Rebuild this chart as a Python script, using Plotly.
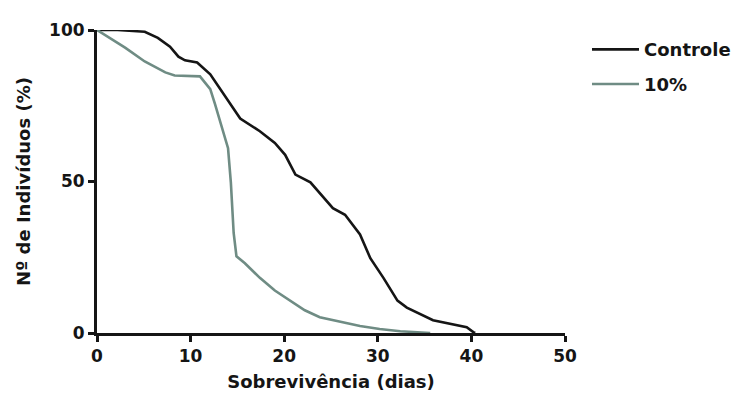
import plotly.graph_objects as go

# Survival data
controle_x = [0, 2.2, 5.1, 6.5, 7.8, 8.7, 9.4, 10.7, 12.1, 13.7, 15.3, 17.4, 19.0, 20.1,
              21.2, 22.8, 24.4, 25.2, 26.5, 28.1, 29.2, 30.6, 32.1, 33.1, 35.9, 39.5, 40.2, 40.4]
controle_y = [100, 100, 99.4, 97.4, 94.5, 91.2, 90, 89.3, 85.4, 78.2, 70.8, 66.6, 62.7, 58.8,
              52.3, 49.7, 44.2, 41.2, 39, 32.5, 24.7, 18.2, 10.7, 8.4, 4.2, 1.9, 0.3, 0]

dez_x = [0, 3.0, 5.1, 7.3, 8.3, 11.0, 12.1, 12.6, 14.0, 14.3, 14.6, 14.9, 15.8, 17.4,
         19.0, 20.6, 22.2, 23.8, 26.0, 28.1, 30.2, 32.4, 35.6]
dez_y = [100, 94.2, 89.6, 86.0, 85, 84.7, 80.5, 75.6, 61, 49.7, 33, 25.3, 23, 18.2,
         14, 10.7, 7.5, 5.2, 3.6, 2.3, 1.3, 0.6, 0]

series_names = ["Controle", "10%"]
x_ticks = [0, 10, 20, 30, 40, 50]
y_ticks = [0, 50, 100]

FONT = "DejaVu Sans"
INK = "#151515"

fig = go.Figure()
fig.add_trace(go.Scatter(x=controle_x, y=controle_y, mode="lines", name=series_names[0],
                         line=dict(color=INK, width=2.6), legend="legend"))
fig.add_trace(go.Scatter(x=dez_x, y=dez_y, mode="lines", name=series_names[1],
                         line=dict(color="#6f8c84", width=2.6), legend="legend2"))

axis_common = dict(showgrid=False, zeroline=False, showline=True, linecolor=INK, linewidth=3,
                   ticks="outside", ticklen=6, tickwidth=2.5, tickcolor=INK,
                   tickfont=dict(family=FONT, size=17, color=INK, weight="bold"))

legend_common = dict(xanchor="left", yanchor="middle", x=1.047,
                     font=dict(family=FONT, size=18, color=INK, weight="bold"),
                     bgcolor="rgba(0,0,0,0)", itemwidth=47, tracegroupgap=0)

fig.update_layout(
    width=740, height=408,
    margin=dict(l=89, r=183, t=17, b=83),
    paper_bgcolor="white", plot_bgcolor="white",
    showlegend=True,
    legend=dict(y=0.935, **legend_common),
    legend2=dict(y=0.821, **legend_common),
    xaxis=dict(range=[0, 50], tickvals=x_ticks, ticktext=[str(v) for v in x_ticks],
               title=dict(text="Sobrevivência (dias)", standoff=10,
                          font=dict(family=FONT, size=18, color=INK, weight="bold")),
               **axis_common),
    yaxis=dict(range=[0, 100], tickvals=y_ticks, ticktext=[str(v) for v in y_ticks],
               title=dict(text="Nº de Indivíduos (%)", standoff=14,
                          font=dict(family=FONT, size=18, color=INK, weight="bold")),
               **axis_common),
)

fig.write_html("out.html")
